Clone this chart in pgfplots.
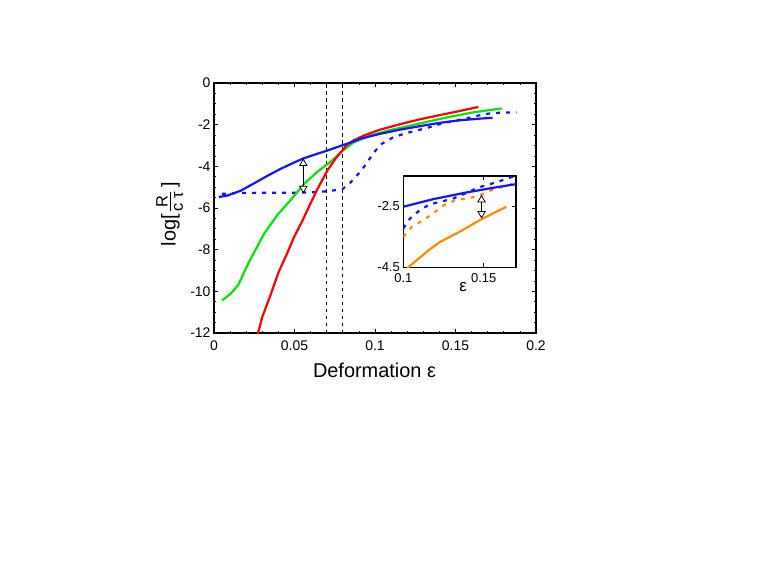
\documentclass[border=0pt]{standalone}
\usepackage{amsmath}
\usepackage{fontspec}
\setmainfont{Liberation Sans}
\usepackage{pgfplots}
\pgfplotsset{compat=1.18}
\usetikzlibrary{arrows.meta}
\definecolor{myblue}{RGB}{20,20,255}
\definecolor{mygreen}{RGB}{0,230,0}
\definecolor{myred}{RGB}{255,0,0}
\definecolor{myorange}{RGB}{255,140,0}
\tikzset{dbl/.style={black, line width=0.8bp, {Triangle[fill=white,length=7.5bp,width=8.5bp]}-{Triangle[fill=white,length=7.5bp,width=8.5bp]}}}
\newcommand{\fr}[1]{\mbox{\fontsize{16.5}{19}\selectfont #1}}
\begin{document}
\begin{tikzpicture}
\path[use as bounding box] (-214bp,-246bp) rectangle (549bp,333bp);
\begin{axis}[
  at={(0,0)}, anchor=south west, scale only axis,
  width=322bp, height=250bp,
  xmin=0, xmax=0.2, ymin=-12, ymax=0,
  xtick={0,0.05,0.1,0.15,0.2}, xticklabels={0,0.05,0.1,0.15,0.2},
  ytick={-12,-10,-8,-6,-4,-2,0}, yticklabels={-12,-10,-8,-6,-4,-2,0},
  minor x tick num=4, minor y tick num=3,
  tick align=inside, major tick length=4bp, minor tick length=2.5bp,
  axis line style={line width=1.1bp},
  every tick/.append style={black, line width=0.8bp},
  ticklabel style={font=\fontsize{14}{16}\selectfont},
  xticklabel style={yshift=-4bp},
  label style={font=\fontsize{20}{24}\selectfont},
  xlabel={Deformation ε},
  ylabel={log[\hspace{2pt}$\frac{\fr{R}}{\fr{c τ}}$\hspace{3pt}]},
  xlabel style={at={(axis description cs:0.4984,-0.179)}, anchor=base},
  ylabel style={at={(axis description cs:-0.119,0.475)}, anchor=base},
]
\addplot[black, line width=0.8bp, dash pattern=on 3.5bp off 3.5bp] coordinates {(0.07,-12) (0.07,0)};
\addplot[black, line width=0.8bp, dash pattern=on 3.5bp off 3.5bp] coordinates {(0.08,-12) (0.08,0)};
% blue dotted
\addplot[myblue, line width=2.2bp, dash pattern=on 4bp off 6bp] coordinates {
(0.005,-5.32) (0.015,-5.28) (0.03,-5.27) (0.045,-5.27) (0.06,-5.25) (0.07,-5.2) (0.0797,-5.1) (0.085,-4.76) (0.0911,-4.24) (0.0948,-3.86) (0.099,-3.36) (0.1042,-2.92) (0.1114,-2.6) (0.1197,-2.4) (0.128,-2.24) (0.1331,-2.14) (0.14,-1.98) (0.1487,-1.82) (0.156,-1.72) (0.1632,-1.58) (0.1704,-1.47) (0.1787,-1.42) (0.188,-1.41)};
% green
\addplot[mygreen, line width=2.2bp] coordinates {
(0.005,-10.43) (0.01,-10.14) (0.015,-9.7) (0.0217,-8.6) (0.031,-7.25) (0.0393,-6.34) (0.0476,-5.62) (0.0559,-4.85) (0.0642,-4.26) (0.0725,-3.78) (0.0797,-3.26) (0.0866,-2.86) (0.0969,-2.53) (0.1093,-2.26) (0.1217,-2.05) (0.1342,-1.83) (0.1466,-1.62) (0.161,-1.41) (0.1787,-1.22)};
% red
\addplot[myred, line width=2.2bp] coordinates {
(0.027,-12.1) (0.03,-11.23) (0.035,-10.2) (0.04,-9.1) (0.045,-8.25) (0.0497,-7.4) (0.055,-6.6) (0.058,-6.1) (0.0642,-5.1) (0.0704,-4.2) (0.0756,-3.62) (0.0797,-3.24) (0.0824,-2.98) (0.0866,-2.76) (0.0928,-2.53) (0.1031,-2.24) (0.1155,-1.98) (0.128,-1.74) (0.1404,-1.54) (0.1528,-1.34) (0.1642,-1.15)};
% blue solid
\addplot[myblue, line width=2.2bp] coordinates {
(0.003,-5.47) (0.008,-5.41) (0.0166,-5.17) (0.0248,-4.82) (0.0331,-4.46) (0.0414,-4.12) (0.0497,-3.82) (0.0555,-3.62) (0.0621,-3.45) (0.0704,-3.24) (0.0787,-3.02) (0.087,-2.8) (0.0907,-2.68) (0.1031,-2.44) (0.1155,-2.24) (0.128,-2.07) (0.1404,-1.91) (0.1528,-1.79) (0.1652,-1.71) (0.173,-1.67)};
\addplot[dbl] coordinates {(0.0555,-3.62) (0.0555,-5.3)};
\end{axis}
\begin{axis}[
  at={(189.3bp,65.7bp)}, anchor=south west, scale only axis,
  width=112.7bp, height=91.3bp,
  xmin=0.1, xmax=0.17, ymin=-4.5, ymax=-1.5,
  xtick={0.1,0.15}, xticklabels={0.1,0.15},
  ytick={-4.5,-2.5}, yticklabels={-4.5,-2.5},
  tick align=inside, major tick length=4bp,
  axis background/.style={fill=white},
  axis line style={line width=1.1bp},
  every tick/.append style={black, line width=0.8bp},
  ticklabel style={font=\fontsize{13}{15}\selectfont},
  xticklabel style={yshift=-3bp},
  label style={font=\fontsize{17}{20}\selectfont},
  xlabel={ε},
  xlabel style={at={(axis description cs:0.53,-0.267)}, anchor=base},
]
\addplot[myblue, line width=2.2bp, dash pattern=on 4bp off 6bp] coordinates {
(0.1,-3.22) (0.1041,-2.9) (0.1103,-2.62) (0.1165,-2.43) (0.1238,-2.34) (0.131,-2.24) (0.1382,-2.08) (0.1465,-1.88) (0.1537,-1.77) (0.161,-1.65) (0.1682,-1.52) (0.171,-1.48)};
\addplot[myorange, line width=2.2bp, dash pattern=on 4bp off 6bp] coordinates {
(0.1,-3.5) (0.1052,-3.17) (0.1124,-2.95) (0.1186,-2.73) (0.1248,-2.47) (0.132,-2.3) (0.1393,-2.24) (0.1465,-2.16) (0.1548,-1.96) (0.162,-1.85) (0.1692,-1.74) (0.171,-1.72)};
\addplot[myblue, line width=2.2bp] coordinates {
(0.1,-2.51) (0.1186,-2.26) (0.1393,-2.04) (0.16,-1.85) (0.171,-1.76)};
\addplot[myorange, line width=2.2bp] coordinates {
(0.1025,-4.55) (0.1031,-4.5) (0.1155,-3.95) (0.1227,-3.67) (0.1351,-3.33) (0.1475,-2.95) (0.1568,-2.7) (0.164,-2.51)};
\addplot[dbl] coordinates {(0.1486,-2.12) (0.1486,-2.9)};
\end{axis}
\end{tikzpicture}
\end{document}
